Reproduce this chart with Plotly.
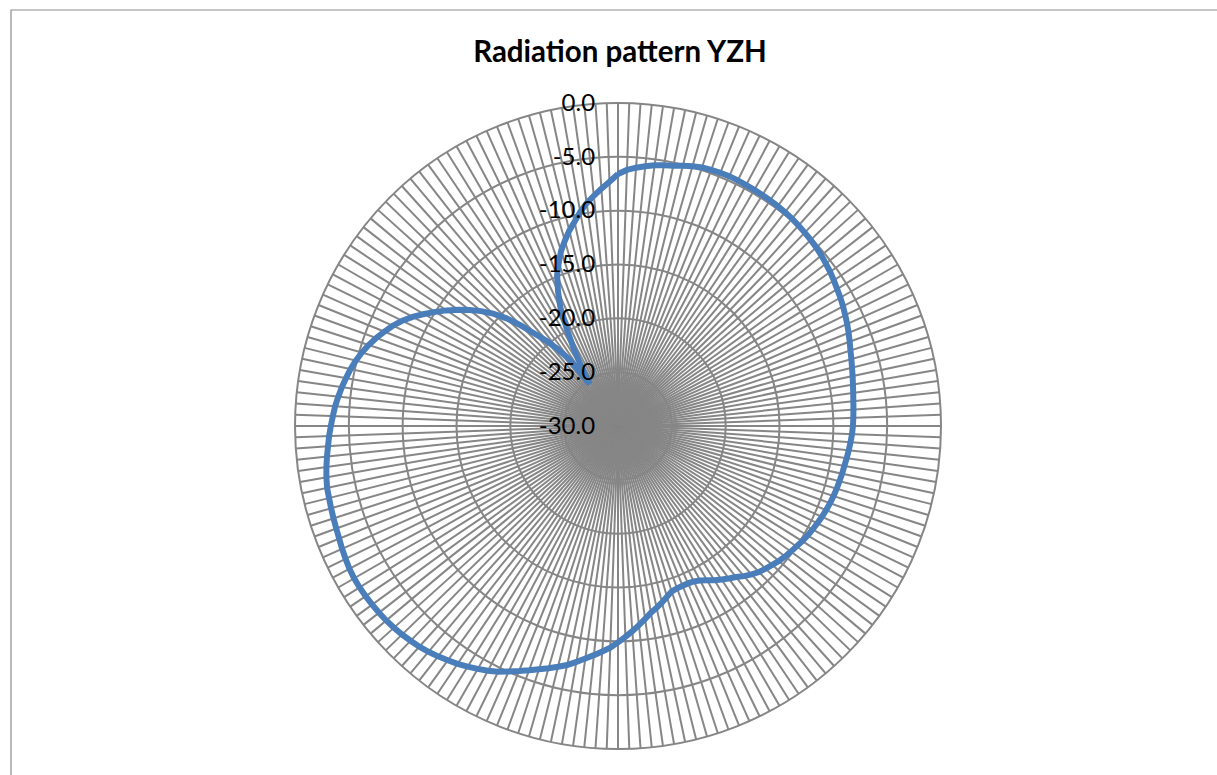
import plotly.graph_objects as go

# Angles (degrees, clockwise from top) – 180 categories at 2 degree steps
angles = list(range(0, 360, 2))

# Radiation pattern values (dB)
values = [
    -6.6, -6.2, -5.95, -5.75, -5.55, -5.4, -5.3, -5.1, -4.9, -4.75,      # 0-18
    -4.68, -4.63, -4.6, -4.62, -4.65, -4.68, -4.7, -4.72, -4.76, -4.8,   # 20-38
    -4.86, -4.95, -5.03, -5.12, -5.22, -5.35, -5.5, -5.65, -5.82, -6.0,  # 40-58
    -6.15, -6.33, -6.52, -6.7, -6.9, -7.1, -7.3, -7.45, -7.6, -7.72,     # 60-78
    -7.84, -7.94, -8.02, -8.08, -8.13, -8.18, -8.25, -8.35, -8.45, -8.55, # 80-98
    -8.65, -8.72, -8.8, -8.87, -8.95, -9.04, -9.15, -9.27, -9.4, -9.53,  # 100-118
    -9.66, -9.82, -10.0, -10.15, -10.3, -10.5, -10.72, -10.93, -11.15, -11.45,  # 120-138
    -11.8, -12.2, -12.5, -12.8, -13.1, -13.45, -13.75, -13.95, -14.0, -14.0,    # 140-158
    -13.95, -13.85, -13.5, -13.1, -12.75, -12.4, -11.9, -11.4, -10.9, -10.4,    # 160-178
    -9.9, -9.4, -9.0, -8.6, -8.2, -7.75, -7.3, -6.95, -6.6, -6.25,       # 180-198
    -5.85, -5.45, -5.05, -4.6, -4.25, -3.95, -3.65, -3.35, -3.1, -2.85,  # 200-218
    -2.62, -2.42, -2.27, -2.12, -2.0, -1.9, -1.83, -1.78, -1.73, -1.7,   # 220-238
    -1.7, -1.75, -1.85, -1.95, -2.07, -2.15, -2.22, -2.28, -2.34, -2.38, # 240-258
    -2.5, -2.65, -2.82, -3.0, -3.15, -3.33, -3.5, -3.66, -3.88, -4.1,    # 260-278
    -4.35, -4.6, -4.9, -5.25, -5.65, -6.1, -6.6, -7.1, -7.7, -8.4,       # 280-298
    -9.2, -10.0, -10.8, -11.65, -12.5, -13.4, -14.4, -15.6, -17.0, -18.5, # 300-318
    -19.7, -21.0, -22.4, -25.3, -23.8, -21.9, -20.0, -17.8, -16.3, -14.9, # 320-338
    -13.9, -12.9, -12.1, -11.3, -10.6, -9.8, -9.1, -8.5, -7.9, -7.3,     # 340-358
]

radial_ticks = [-30, -25, -20, -15, -10, -5, 0]
radial_labels = ["-30.0", "-25.0", "-20.0", "-15.0", "-10.0", "-5.0", "0.0"]
title_text = "Radiation pattern YZH"

GRID = "#868686"
W, H = 1217, 775
cx, cy, R = 618, 426, 323

fig = go.Figure()
fig.add_trace(go.Scatterpolar(
    r=values + values[:1],
    theta=angles + angles[:1],
    mode="lines",
    line=dict(color="#4A7EBB", width=6),
    hoverinfo="skip",
    showlegend=False,
))

fig.update_layout(
    width=W, height=H,
    margin=dict(l=0, r=0, t=0, b=0),
    paper_bgcolor="white",
    plot_bgcolor="white",
    font=dict(family="Lato, Open Sans, sans-serif", color="black"),
    title=dict(
        text="<b>" + title_text + "</b>",
        x=620 / W, xanchor="center",
        y=1 - 52 / H, yanchor="middle",
        font=dict(size=29.5, family="Lato, Open Sans, sans-serif", color="black"),
    ),
    polar=dict(
        domain=dict(x=[(cx - R) / W, (cx + R) / W],
                    y=[1 - (cy + R) / H, 1 - (cy - R) / H]),
        bgcolor="white",
        angularaxis=dict(
            direction="clockwise",
            rotation=90,
            tickmode="array",
            tickvals=angles,
            showticklabels=False,
            ticks="",
            gridcolor=GRID,
            gridwidth=2,
            showline=True,
            linecolor=GRID,
            linewidth=2,
        ),
        radialaxis=dict(
            range=[-30, 0],
            tickmode="array",
            tickvals=radial_ticks,
            ticktext=radial_labels,
            angle=90,
            side="counterclockwise",
            tickangle=90,
            ticks="outside",
            ticklen=14,
            tickcolor="rgba(0,0,0,0)",
            showline=False,
            gridcolor=GRID,
            gridwidth=2,
            tickfont=dict(size=24, color="black"),
        ),
    ),
    shapes=[dict(
        type="rect", xref="paper", yref="paper",
        x0=11 / W, x1=1.02, y0=-0.02, y1=1 - 10 / H,
        line=dict(color="#8C8C8C", width=1.2),
        fillcolor="rgba(0,0,0,0)",
        layer="below",
    )],
)

fig.write_html("out.html", config={"displayModeBar": False},
               post_script="document.body.style.margin='0px';")
